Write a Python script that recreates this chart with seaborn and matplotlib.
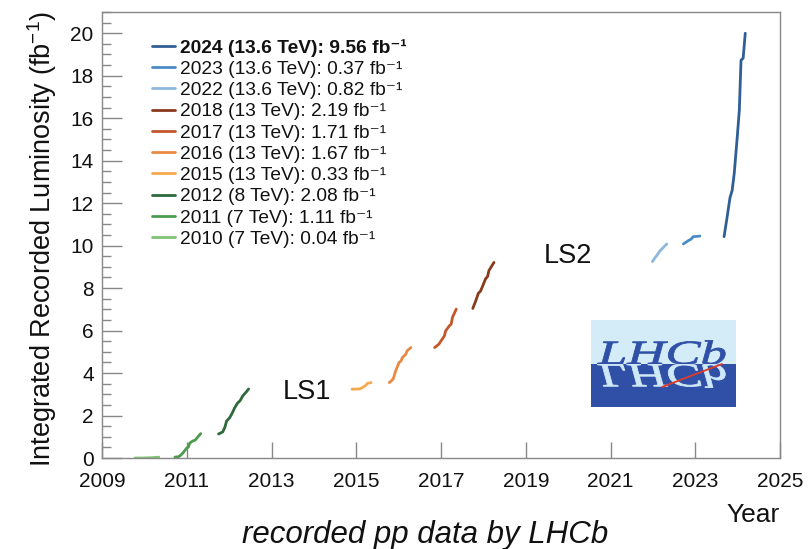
import numpy as np
import pandas as pd
import matplotlib
matplotlib.use("Agg")
import matplotlib.pyplot as plt
import seaborn as sns
from matplotlib.ticker import MultipleLocator
from matplotlib.textpath import TextPath
from matplotlib.patches import PathPatch, Rectangle
from matplotlib.font_manager import FontProperties
from matplotlib.transforms import Affine2D
from matplotlib.lines import Line2D

# ---------------- data ----------------
t2010 = [2009.78, 2009.95, 2010.10, 2010.22, 2010.34]
l2010 = [0.00, 0.00, 0.01, 0.02, 0.04]

t2011 = [2010.72, 2010.80, 2010.84, 2010.91, 2011.00, 2011.04, 2011.07, 2011.14, 2011.20, 2011.24, 2011.33]
l2011 = [0.04, 0.06, 0.10, 0.24, 0.47, 0.52, 0.70, 0.80, 0.84, 0.94, 1.15]

t2012 = [2011.75, 2011.85, 2011.90, 2011.94, 2012.01, 2012.07, 2012.13, 2012.20, 2012.26, 2012.32, 2012.40, 2012.46]
l2012 = [1.13, 1.23, 1.45, 1.74, 1.89, 2.10, 2.36, 2.59, 2.70, 2.92, 3.10, 3.25]

t2015 = [2014.90, 2015.05, 2015.11, 2015.21, 2015.27, 2015.35]
l2015 = [3.24, 3.25, 3.27, 3.40, 3.52, 3.55]

t2016 = [2015.78, 2015.87, 2015.93, 2016.01, 2016.05, 2016.09, 2016.17, 2016.20, 2016.29]
l2016 = [3.55, 3.71, 4.10, 4.50, 4.55, 4.73, 4.89, 5.05, 5.20]

t2017 = [2016.85, 2016.95, 2017.03, 2017.08, 2017.11, 2017.20, 2017.24, 2017.27, 2017.36]
l2017 = [5.20, 5.36, 5.60, 5.75, 5.99, 6.23, 6.30, 6.62, 7.01]

t2018 = [2017.75, 2017.82, 2017.88, 2017.93, 2017.97, 2018.05, 2018.10, 2018.13, 2018.25]
l2018 = [7.04, 7.40, 7.75, 7.85, 8.03, 8.43, 8.55, 8.82, 9.21]

t2022 = [2021.99, 2022.04, 2022.09, 2022.17, 2022.25, 2022.33]
l2022 = [9.25, 9.40, 9.53, 9.76, 9.92, 10.08]

t2023 = [2022.72, 2022.84, 2022.90, 2022.95, 2023.11]
l2023 = [10.08, 10.24, 10.30, 10.42, 10.45]

t2024 = [2023.68, 2023.75, 2023.82, 2023.87, 2023.92, 2023.99, 2024.04, 2024.08, 2024.13, 2024.18]
l2024 = [10.42, 11.32, 12.26, 12.59, 13.40, 15.09, 16.37, 18.73, 18.82, 20.00]

labels = [
    "2024 (13.6 TeV): 9.56 fb\u207b\u00b9",
    "2023 (13.6 TeV): 0.37 fb\u207b\u00b9",
    "2022 (13.6 TeV): 0.82 fb\u207b\u00b9",
    "2018 (13 TeV): 2.19 fb\u207b\u00b9",
    "2017 (13 TeV): 1.71 fb\u207b\u00b9",
    "2016 (13 TeV): 1.67 fb\u207b\u00b9",
    "2015 (13 TeV): 0.33 fb\u207b\u00b9",
    "2012 (8 TeV): 2.08 fb\u207b\u00b9",
    "2011 (7 TeV): 1.11 fb\u207b\u00b9",
    "2010 (7 TeV): 0.04 fb\u207b\u00b9",
]
colors = ["#2f5f96", "#4a8bc6", "#8db8df", "#8a3a1c", "#c3572b", "#e98944",
          "#f6a94e", "#2c6a3c", "#4b9b50", "#82c276"]
times = [t2024, t2023, t2022, t2018, t2017, t2016, t2015, t2012, t2011, t2010]
lumis = [l2024, l2023, l2022, l2018, l2017, l2016, l2015, l2012, l2011, l2010]

frames = [pd.DataFrame({"t": t, "lumi": l, "label": lab}) for t, l, lab in zip(times, lumis, labels)]
df = pd.concat(frames, ignore_index=True)
palette = dict(zip(labels, colors))

# ---------------- figure ----------------
sns.set_style("white")
plt.rcParams["font.family"] = ["Liberation Sans", "DejaVu Sans"]
plt.rcParams["mathtext.default"] = "regular"

W, H = 808, 549
fig = plt.figure(figsize=(W / 100, H / 100), dpi=100)
ax = fig.add_axes([102 / W, 1 - 458 / H, (780 - 102) / W, (458 - 12) / H])

sns.lineplot(data=df, x="t", y="lumi", hue="label", hue_order=labels, palette=palette,
             estimator=None, sort=False, linewidth=2.0, ax=ax)

ax.set_xlim(2009, 2025)
ax.set_ylim(0, 21)
ax.set_xticks(range(2009, 2026, 2))
ax.set_yticks(range(0, 21, 2))
ax.yaxis.set_minor_locator(MultipleLocator(0.5))
ax.tick_params(axis="x", which="major", bottom=True, direction="in", length=11.5,
               width=1.0, color="#888888", labelsize=15, pad=10, labelcolor="#111111")
ax.tick_params(axis="y", which="major", left=True, direction="in", length=14.5,
               width=1.0, color="#888888", labelsize=15, pad=6, labelcolor="#111111")
ax.tick_params(axis="y", which="minor", left=True, direction="in", length=6.5,
               width=1.0, color="#888888")
for s in ax.spines.values():
    s.set_color("#888888")
    s.set_linewidth(1.0)

ax.set_xlabel("")
ax.set_ylabel("Integrated Recorded Luminosity (fb$^{-1}$)", fontsize=19.5, color="#111111")
ax.yaxis.set_label_coords(-0.063, 0.49)

# legend
handles, labs = ax.get_legend_handles_labels()
ax.get_legend().remove()
leg = ax.legend(handles, labs, loc="upper left", bbox_to_anchor=(0.074, 0.94),
                frameon=False, fontsize=13.8, labelspacing=0.2, handlelength=1.2,
                handletextpad=0.25, borderpad=0, borderaxespad=0)
for line in leg.get_lines():
    line.set_linewidth(2.0)
for txt in leg.get_texts():
    txt.set_color("#111111")
leg.get_texts()[0].set_fontweight("bold")

# annotations
ax.text(2013.26, 2.78, "LS1", fontsize=19.5, color="#111111", ha="left", va="baseline")
ax.text(2019.42, 9.2, "LS2", fontsize=19.5, color="#111111", ha="left", va="baseline")
fig.text(780 / W, 1 - 522 / H, "Year", fontsize=19, ha="right", va="baseline", color="#111111")
fig.text(425 / W, 1 - 543 / H, "recorded pp data by LHCb", fontsize=22.5, style="italic",
         ha="center", va="baseline", color="#111111")

# LHCb logo (decoration)
def px(x0, y0):
    return Affine2D().translate(x0, H - y0).scale(1 / W, 1 / H) + fig.transFigure

to_fig = Affine2D().scale(1 / W, 1 / H) + fig.transFigure
top_rect = Rectangle((591, H - 364), 145, 44, transform=to_fig, facecolor="#d4ecf8",
                     edgecolor="none", zorder=5)
bot_rect = Rectangle((591, H - 407), 145, 43, transform=to_fig, facecolor="#2f50a6",
                     edgecolor="none", zorder=5)
fig.add_artist(top_rect)
fig.add_artist(bot_rect)
fp = FontProperties(family="Liberation Serif", style="italic")
tp = TextPath((0, 0), "LHCb", size=34, prop=fp)
sx = 1.55
upright = PathPatch(tp, transform=Affine2D().scale(sx, 1) + px(598, 364), facecolor="#2f50a6",
                    edgecolor="#2f50a6", linewidth=0.6, zorder=6)
mirror = PathPatch(tp, transform=Affine2D().scale(sx, -1) + px(598, 364), facecolor="#cfe8f6",
                   edgecolor="#cfe8f6", linewidth=0.6, zorder=6)
upright.set_clip_path(top_rect)
mirror.set_clip_path(bot_rect)
fig.add_artist(upright)
fig.add_artist(mirror)
fig.add_artist(Line2D([662, 722], [H - 387, H - 364], transform=to_fig, color="#e03a2a",
                      linewidth=1.3, zorder=7))

fig.savefig("out.png", dpi=100)
